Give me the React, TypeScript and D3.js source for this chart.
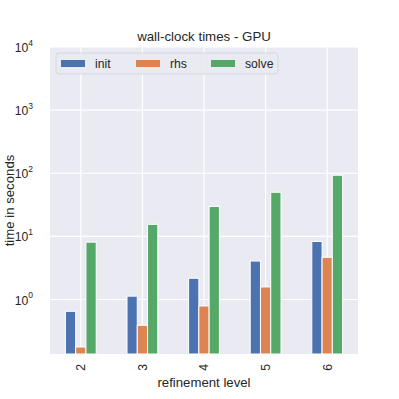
import React from "react";
import * as d3 from "d3";

const levels = ["2", "3", "4", "5", "6"];
const seriesNames = ["init", "rhs", "solve"];
const initTimes = [0.65, 1.13, 2.17, 4.07, 8.3];
const rhsTimes = [0.177, 0.39, 0.79, 1.58, 4.66];
const solveTimes = [8.1, 15.5, 29.8, 50, 93];
const colors = ["#4c72b0", "#dd8452", "#55a868"];
const yTicks = [0, 1, 2, 3, 4];

const W = 399, H = 399;
const margin = { top: 47, right: 41, bottom: 45, left: 50 };
const font = "'Liberation Sans', Arial, sans-serif";
const ink = "#262626";

export default function App() {
  const width = W - margin.left - margin.right;
  const height = H - margin.top - margin.bottom;
  const values = [initTimes, rhsTimes, solveTimes];

  const x = d3.scaleBand().domain(levels).range([0, width]).padding(0);
  const groupW = x.bandwidth() * 0.5;
  const xs = d3.scaleBand().domain(seriesNames).range([-groupW / 2, groupW / 2]);
  const y = d3.scaleLog().domain([0.137, 10000]).range([height, 0]);

  return (
    <svg width={W} height={H} style={{ position: "absolute", left: 0, top: 0 }} fontFamily={font}>
      <text x={margin.left + width / 2} y={41} textAnchor="middle" fontSize={13.3} fill={ink}>
        wall-clock times - GPU
      </text>
      <g transform={`translate(${margin.left},${margin.top})`}>
        <rect width={width} height={height} fill="#eaeaf2" />
        {yTicks.map(e => (
          <line key={e} x1={0} x2={width} y1={y(10 ** e)} y2={y(10 ** e)} stroke="#fff" strokeWidth={1.2} />
        ))}
        {levels.map(l => (
          <line key={l} x1={x(l)! + x.bandwidth() / 2} x2={x(l)! + x.bandwidth() / 2} y1={0} y2={height} stroke="#fff" strokeWidth={1.2} />
        ))}
        {values.map((vals, si) =>
          vals.map((v, i) => {
            const cx = x(levels[i])! + x.bandwidth() / 2 + xs(seriesNames[si])!;
            return (
              <rect key={si + "-" + i} x={cx} y={y(v)} width={xs.bandwidth()} height={height - y(v)}
                fill={colors[si]} stroke="#fff" strokeWidth={1} />
            );
          })
        )}
        {yTicks.map(e => (
          <text key={e} x={-17} y={y(10 ** e) + 5} textAnchor="end" fontSize={12.2} fill={ink}>
            10<tspan dy={-6.5} fontSize={8.5}>{e}</tspan>
          </text>
        ))}
        {levels.map(l => (
          <text key={l} transform={`translate(${x(l)! + x.bandwidth() / 2 + 4.4},${height + 10}) rotate(-90)`}
            textAnchor="end" fontSize={12.2} fill={ink}>{l}</text>
        ))}
        <text x={width / 2} y={height + 32.5} textAnchor="middle" fontSize={13.2} fill={ink}>refinement level</text>
        <text transform={`translate(${-36.5},${height / 2}) rotate(-90)`} textAnchor="middle" fontSize={13.2} fill={ink}>
          time in seconds
        </text>
        <g transform="translate(6,6)">
          <rect width={222} height={21} rx={3} fill="#eaeaf2" stroke="#d5d5dc" strokeWidth={1} opacity={0.9} />
          {seriesNames.map((n, i) => (
            <g key={n} transform={`translate(${5 + i * 75},0)`}>
              <rect x={0} y={7} width={24} height={7} fill={colors[i]} />
              <text x={34} y={14.5} fontSize={12.2} fill={ink}>{n}</text>
            </g>
          ))}
        </g>
      </g>
    </svg>
  );
}
